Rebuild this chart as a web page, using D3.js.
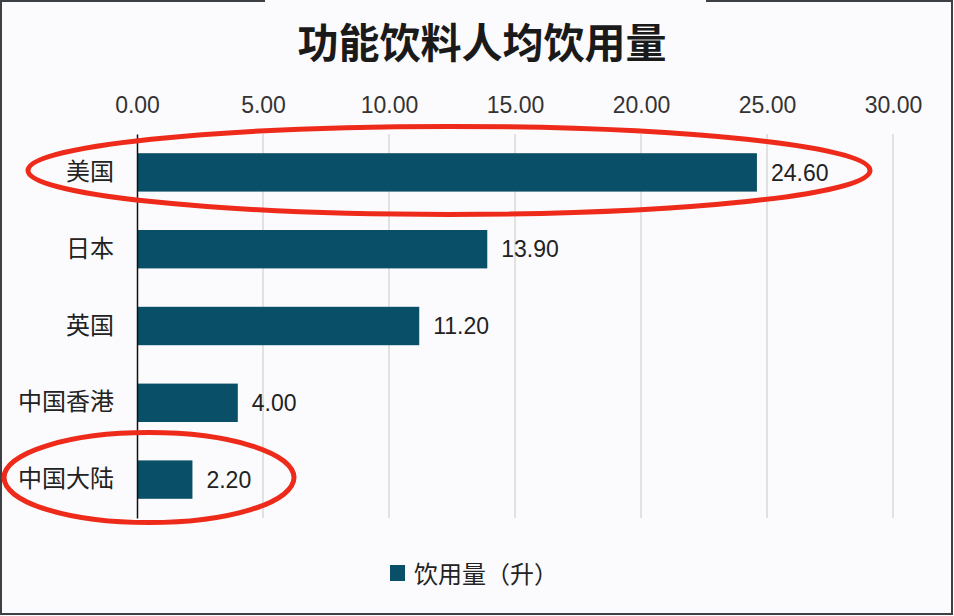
<!DOCTYPE html>
<html>
<head>
<meta charset="utf-8">
<script src="https://cdn.jsdelivr.net/npm/d3@7"></script>
<style>
  html, body { margin: 0; padding: 0; background: #fff; }
  text { font-family: "Noto Sans CJK SC", "Liberation Sans", sans-serif; }
</style>
</head>
<body>
<div id="chart"></div>
<script>
const categories = ["美国", "日本", "英国", "中国香港", "中国大陆"];
const values = [24.6, 13.9, 11.2, 4.0, 2.2];
const xTicks = [0, 5, 10, 15, 20, 25, 30];
const highlighted = ["美国", "中国大陆"];
const title = "功能饮料人均饮用量";
const seriesName = "饮用量（升）";

const width = 954;
const height = 616;
const margin = { top: 134, right: 61, bottom: 98, left: 137 };

const svg = d3.select("#chart")
  .append("svg")
  .attr("width", width)
  .attr("height", height);

svg.append("rect")
  .attr("width", width)
  .attr("height", height)
  .attr("fill", "#fbfbfd");

// frame, broken at the top around the title
const frame = svg.append("g").attr("stroke", "#3c3f44").attr("stroke-width", 2).attr("fill", "none");
frame.append("path").attr("d", `M265,1 H1 V614 H952 V1 H706`);

const x = d3.scaleLinear().domain([0, 30]).range([margin.left, width - margin.right]);
const y = d3.scaleBand().domain(categories)
  .range([margin.top, height - margin.bottom])
  .paddingInner(0.5)
  .paddingOuter(0.25);

svg.append("text")
  .attr("x", 482)
  .attr("y", 58)
  .attr("text-anchor", "middle")
  .attr("font-size", 41)
  .attr("font-weight", "bold")
  .attr("fill", "#1a1a1a")
  .text(title);

// gridlines
svg.append("g")
  .selectAll("line")
  .data(xTicks.slice(1))
  .join("line")
  .attr("x1", d => x(d))
  .attr("x2", d => x(d))
  .attr("y1", margin.top)
  .attr("y2", height - margin.bottom)
  .attr("stroke", "#c8c8c8")
  .attr("stroke-width", 1);

// top axis
const xAxis = svg.append("g")
  .attr("transform", `translate(0,${margin.top - 18})`)
  .call(d3.axisTop(x).tickValues(xTicks).tickFormat(d3.format(".2f")).tickSize(0));
xAxis.select(".domain").remove();
xAxis.selectAll("text")
  .attr("font-size", 23)
  .attr("fill", "#333")
  .style("font-family", "'Liberation Sans', sans-serif");

// bars
svg.append("g")
  .selectAll("rect")
  .data(values)
  .join("rect")
  .attr("x", x(0))
  .attr("y", (d, i) => y(categories[i]))
  .attr("width", d => x(d) - x(0))
  .attr("height", y.bandwidth())
  .attr("fill", "#0a4f68");

// value labels
svg.append("g")
  .selectAll("text")
  .data(values)
  .join("text")
  .attr("x", d => x(d) + 14)
  .attr("y", (d, i) => y(categories[i]) + y.bandwidth() / 2)
  .attr("dy", "0.36em")
  .attr("font-size", 23)
  .attr("fill", "#222")
  .style("font-family", "'Liberation Sans', sans-serif")
  .text(d => d3.format(".2f")(d));

// category axis
const yAxis = svg.append("g")
  .attr("transform", `translate(${margin.left},0)`)
  .call(d3.axisLeft(y).tickSize(0).tickPadding(23));
yAxis.select(".domain").attr("stroke", "#111").attr("stroke-width", 1.5);
yAxis.selectAll("text").attr("font-size", 24).attr("fill", "#222")
  .style("font-family", "'Noto Sans CJK SC', sans-serif");

// legend
const legend = svg.append("g").attr("transform", "translate(390,565)");
legend.append("rect").attr("width", 15).attr("height", 16).attr("fill", "#0a4f68");
legend.append("text")
  .attr("x", 24)
  .attr("y", 9)
  .attr("dy", "0.36em")
  .attr("font-size", 24)
  .attr("fill", "#222")
  .text(seriesName);

// red highlight ellipses drawn over the chart
const ellipseSize = { "美国": { cx: 449, rx: 421, ry: 44 }, "中国大陆": { cx: 149, rx: 145, ry: 45 } };
svg.append("g")
  .selectAll("ellipse")
  .data(highlighted)
  .join("ellipse")
  .attr("cx", d => ellipseSize[d].cx)
  .attr("cy", d => y(d) + y.bandwidth() / 2 - 2)
  .attr("rx", d => ellipseSize[d].rx)
  .attr("ry", d => ellipseSize[d].ry)
  .attr("fill", "none")
  .attr("stroke", "#ee2a1a")
  .attr("stroke-width", 5);
</script>
</body>
</html>
